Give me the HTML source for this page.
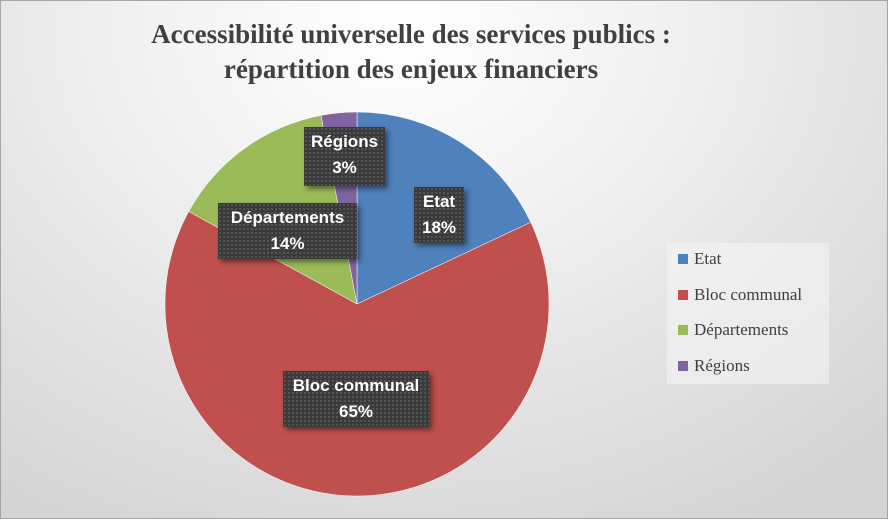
<!DOCTYPE html>
<html><head><meta charset="utf-8"><style>
body{margin:0;width:888px;height:519px;overflow:hidden;font-family:"Liberation Sans",sans-serif}
#chart{position:absolute;left:0;top:0;width:886px;height:517px;border:1px solid #a6a6a6;background:radial-gradient(ellipse 80% 110% at 45% 5%,#ffffff 0%,#f2f2f2 35%,#d4d4d4 100%)}
.title{position:absolute;left:0;width:820px;text-align:center;font-family:"Liberation Serif",serif;font-weight:bold;font-size:27px;color:#404040}
.lbl{position:absolute;background:#3a3a3a;background-image:radial-gradient(#555 1px,transparent 1.2px);background-size:4px 4px;color:#fff;font-weight:bold;font-size:17px;text-align:center;line-height:26px;box-shadow:3px 3px 5px rgba(0,0,0,.45);padding-top:2px;box-sizing:border-box}
#legend{position:absolute;left:666px;top:242px;width:162px;height:141px;background:rgba(245,245,245,.55)}
.li{position:absolute;left:11px;font-family:"Liberation Serif",serif;font-size:17px;color:#404040}
.li span{display:inline-block;width:10px;height:10px;margin-right:6px}
</style></head><body>
<div id="chart">
<div class="title" style="top:18px">Accessibilité universelle des services publics :</div>
<div class="title" style="top:53px">répartition des enjeux financiers</div>
<svg id="pie" width="888" height="519" style="position:absolute;left:0;top:0"></svg>
<div class="lbl" style="left:303px;top:126px;width:81px;height:59px">Régions<br>3%</div>
<div class="lbl" style="left:413px;top:186px;width:50px;height:56px">Etat<br>18%</div>
<div class="lbl" style="left:217px;top:202px;width:139px;height:56px">Départements<br>14%</div>
<div class="lbl" style="left:282px;top:370px;width:146px;height:56px">Bloc communal<br>65%</div>
<div id="legend">
<div class="li" style="top:6px"><span style="background:#4f81bd"></span>Etat</div>
<div class="li" style="top:42px"><span style="background:#c0504d"></span>Bloc communal</div>
<div class="li" style="top:77px"><span style="background:#9bbb59"></span>Départements</div>
<div class="li" style="top:113px"><span style="background:#8064a2"></span>Régions</div>
</div>
</div>
<script>
const categories=["Etat","Bloc communal","Départements","Régions"];
const values=[18,65,14,3];
const colors=["#4f81bd","#c0504d","#9bbb59","#8064a2"];
const svg=document.getElementById('pie');
const cx=356,cy=303,r=192;
const total=values.reduce((a,b)=>a+b,0);
let a0=-Math.PI/2;
values.forEach((v,i)=>{
  const a1=a0+v/total*2*Math.PI;
  const x0=cx+r*Math.cos(a0),y0=cy+r*Math.sin(a0),x1=cx+r*Math.cos(a1),y1=cy+r*Math.sin(a1);
  const p=document.createElementNS('http://www.w3.org/2000/svg','path');
  p.setAttribute('d',`M${cx},${cy}L${x0},${y0}A${r},${r} 0 ${a1-a0>Math.PI?1:0} 1 ${x1},${y1}Z`);
  p.setAttribute('fill',colors[i]);
  p.setAttribute('stroke','#fff');
  p.setAttribute('stroke-width','0.5');
  
  
  svg.appendChild(p);
  a0=a1;
});
</script>
</body></html>
